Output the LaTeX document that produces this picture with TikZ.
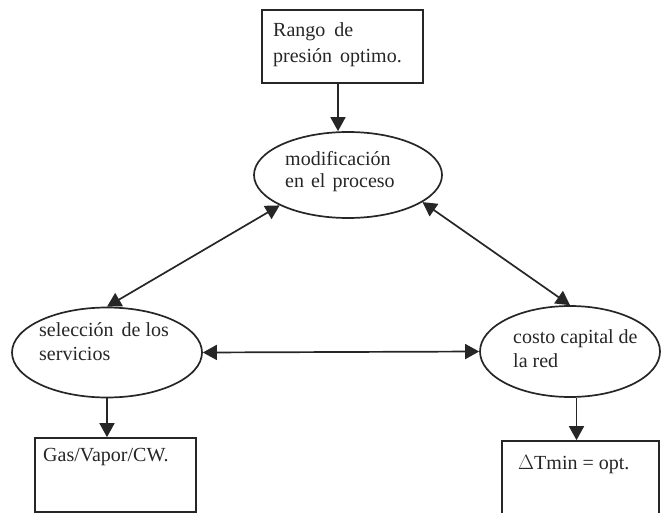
\documentclass[tikz,border=0pt]{standalone}
\usepackage{fontspec}
\setmainfont{Liberation Serif}
\usetikzlibrary{shapes.geometric,arrows.meta}

\tikzset{
  line/.style={line width=1.7pt, draw=black!85},
  tip/.tip={Triangle[length=14pt,width=15pt]},
  arr/.style={line, -tip},
  darr/.style={line, tip-tip},
  oval/.style={ellipse, line, inner sep=0pt},
  boxed/.style={rectangle, line, inner sep=0pt},
  txt/.style={inner sep=0pt, anchor=west, align=left,
    font=\fontsize{20}{24}\selectfont, text=black!85},
}

\begin{document}
\begin{tikzpicture}[x=1pt, y=-1pt]
  \useasboundingbox (0,0) rectangle (661,513);
  \clip (0,0) rectangle (661,513);

  % boxes
  \node[boxed, minimum width=161pt, minimum height=73pt] (rango) at (342.5,46.5) {};
  \node[boxed, minimum width=161pt, minimum height=74pt] (gas) at (115.5,475) {};
  \node[boxed, minimum width=157pt, minimum height=76pt] (dt) at (580.5,479) {};

  % ellipses
  \node[oval, minimum width=188pt, minimum height=86pt] (mod) at (348,175) {};
  \node[oval, minimum width=190pt, minimum height=90pt] (sel) at (107,352.5) {};
  \node[oval, minimum width=180pt, minimum height=91pt] (cost) at (570,351.5) {};

  % labels
  \node[txt, font=\fontsize{20}{26}\selectfont] (trango) at (273,45) {Rango\hspace{9pt}de\\presión\hspace{8pt}optimo.};
  \node[txt, font=\fontsize{20}{22}\selectfont] (tmod) at (285,172) {modificación\\en\hspace{7pt}el\hspace{7pt}proceso};
  \node[txt] (tsel) at (39,341.5) {selección\hspace{8pt}de los\\servicios};
  \node[txt] (tcost) at (513,348.5) {costo capital de\\la red};
  \node[txt] (tgas) at (43,457) {Gas/Vapor/CW.};
  \node[txt] (tdt) at (518,465) {$\Delta$Tmin = opt.};

  % connectors
  \draw[arr] (rango.south -| mod.north) ++(-10,0) coordinate (a1) -- (a1 |- mod.north);
  \draw[darr] (mod.204) -- (sel.north);
  \draw[darr] (mod.340) -- (cost.north);
  \draw[darr] (sel.east) -- (cost.west);
  \draw[arr] (sel.south) -- (sel.south |- gas.north);
  \draw[arr] (cost.278) -- (cost.278 |- dt.north);
\end{tikzpicture}
\end{document}
